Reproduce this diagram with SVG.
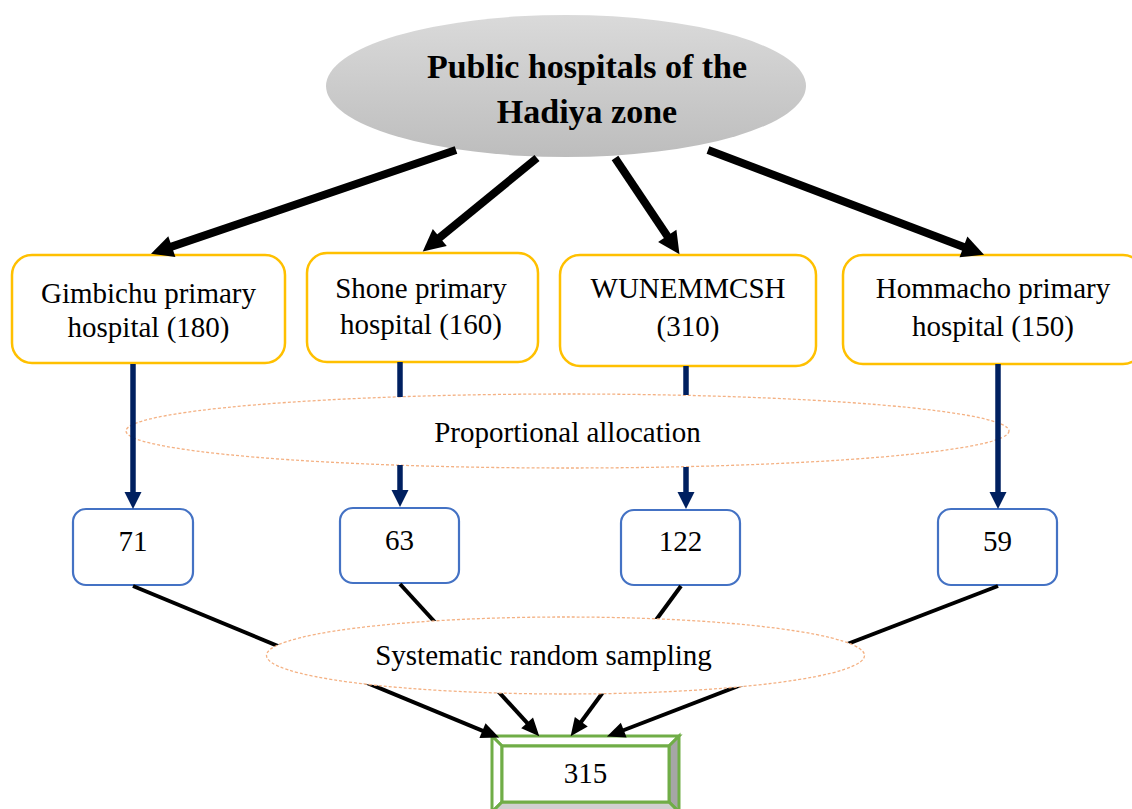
<svg xmlns="http://www.w3.org/2000/svg" width="1132" height="809" viewBox="0 0 1132 809">
<defs>
<style>
.t{font-family:"Liberation Serif","Times New Roman",serif;font-size:29px;fill:#000;text-anchor:middle}
.tb{font-family:"Liberation Serif","Times New Roman",serif;font-size:34px;font-weight:bold;fill:#000;text-anchor:middle}
.yb{fill:#fff;stroke:#ffc000;stroke-width:2.5}
.bb{fill:#fff;stroke:#4472c4;stroke-width:2.2}
.de{fill:#fff;stroke:#f4b183;stroke-width:1.3;stroke-dasharray:3 2}
.thick{stroke:#000;stroke-width:8;fill:none;marker-end:url(#hk)}
.navy{stroke:#002060;stroke-width:5.5;fill:none}
.navya{stroke:#002060;stroke-width:5.5;fill:none;marker-end:url(#hn)}
.thin{stroke:#000;stroke-width:4;fill:none;marker-end:url(#ht)}
.bev{stroke:#70ad47;stroke-width:3;stroke-linejoin:miter}
</style>
<linearGradient id="g1" x1="0" y1="0" x2="0" y2="1">
<stop offset="0" stop-color="#dadada"/>
<stop offset="1" stop-color="#bdbdbd"/>
</linearGradient>
<marker id="hk" markerUnits="userSpaceOnUse" markerWidth="22" markerHeight="22" viewBox="0 0 22 22" refX="1" refY="11" orient="auto" overflow="visible">
<path d="M0,0 L22,11 L0,22 z" fill="#000"/>
</marker>
<marker id="hn" markerUnits="userSpaceOnUse" markerWidth="17" markerHeight="17" viewBox="0 0 17 17" refX="1" refY="8.5" orient="auto" overflow="visible">
<path d="M0,0 L17,8.5 L0,17 z" fill="#002060"/>
</marker>
<marker id="ht" markerUnits="userSpaceOnUse" markerWidth="18" markerHeight="16" viewBox="0 0 18 16" refX="1" refY="8" orient="auto" overflow="visible">
<path d="M0,0 L18,8 L0,16 z" fill="#000"/>
</marker>
</defs>
<rect width="1132" height="809" fill="#fff"/>

<g id="top">
<ellipse cx="566" cy="86" rx="240" ry="71" fill="url(#g1)"/>
<text class="tb" x="587" y="78">Public hospitals of the</text>
<text class="tb" x="587" y="123">Hadiya zone</text>
</g>

<g id="gimbichu">
<rect class="yb" x="12" y="255" width="273" height="108" rx="20"/>
<text class="t" x="148.5" y="303">Gimbichu primary</text>
<text class="t" x="148.5" y="337">hospital (180)</text>
</g>
<g id="shone">
<rect class="yb" x="307" y="253" width="231" height="109" rx="20"/>
<text class="t" x="421" y="298">Shone primary</text>
<text class="t" x="421" y="334">hospital (160)</text>
</g>
<g id="wunemmcsh">
<rect class="yb" x="560" y="255" width="256" height="111" rx="20"/>
<text class="t" x="688" y="298">WUNEMMCSH</text>
<text class="t" x="688" y="336">(310)</text>
</g>
<g id="hommacho">
<rect class="yb" x="843" y="255" width="300" height="109" rx="20"/>
<text class="t" x="993" y="298">Hommacho primary</text>
<text class="t" x="993" y="336">hospital (150)</text>
</g>

<g id="proportional">
<ellipse class="de" cx="567.5" cy="431" rx="441.5" ry="37"/>
<text class="t" x="567.5" y="442">Proportional allocation</text>
</g>

<g id="n71">
<rect class="bb" x="73" y="509" width="120" height="76" rx="13"/>
<text class="t" x="133" y="551">71</text>
</g>
<g id="n63">
<rect class="bb" x="340" y="508" width="119" height="75" rx="13"/>
<text class="t" x="399.5" y="550">63</text>
</g>
<g id="n122">
<rect class="bb" x="621" y="510" width="119" height="75" rx="13"/>
<text class="t" x="680.5" y="551">122</text>
</g>
<g id="n59">
<rect class="bb" x="938" y="509" width="119" height="76" rx="13"/>
<text class="t" x="997.5" y="551">59</text>
</g>

<g id="total">
<polygon points="492,736 679,736 669,746 502,746" fill="#fff" class="bev"/>
<polygon points="492,736 502,746 502,802 492,812" fill="#fff" class="bev"/>
<polygon points="679,736 679,812 669,802 669,746" fill="#a6a6a6" class="bev"/>
<polygon points="502,802 669,802 679,812 492,812" fill="#d0d0d0" class="bev"/>
<rect x="502" y="746" width="167" height="56" fill="#fff" class="bev"/>
<text class="t" x="585.5" y="783">315</text>
</g>

<g id="connectors">
<line class="thick" x1="456" y1="150" x2="170.9" y2="246.9"/>
<line class="thick" x1="537" y1="158" x2="439" y2="238.1"/>
<line class="thick" x1="615" y1="158" x2="667.8" y2="236.8"/>
<line class="thick" x1="708" y1="150" x2="964.4" y2="247.2"/>

<line class="navya" x1="133" y1="364" x2="133" y2="493"/>
<line class="navy" x1="400" y1="362" x2="400" y2="397"/>
<line class="navya" x1="400" y1="465" x2="400" y2="491"/>
<line class="navy" x1="686" y1="366" x2="686" y2="395"/>
<line class="navya" x1="686" y1="467" x2="686" y2="493"/>
<line class="navya" x1="998" y1="364" x2="998" y2="493"/>

<line class="thin" x1="133" y1="586" x2="483.4" y2="731.1"/>
<line class="thin" x1="400" y1="584" x2="527.8" y2="723.7"/>
<line class="thin" x1="681" y1="586" x2="580.7" y2="722.5"/>
<line class="thin" x1="998" y1="586" x2="622.8" y2="730.5"/>
</g>

<g id="systematic">
<ellipse class="de" cx="565.5" cy="655.5" rx="299" ry="38.5"/>
<text class="t" x="543.5" y="665">Systematic random sampling</text>
</g>
</svg>
